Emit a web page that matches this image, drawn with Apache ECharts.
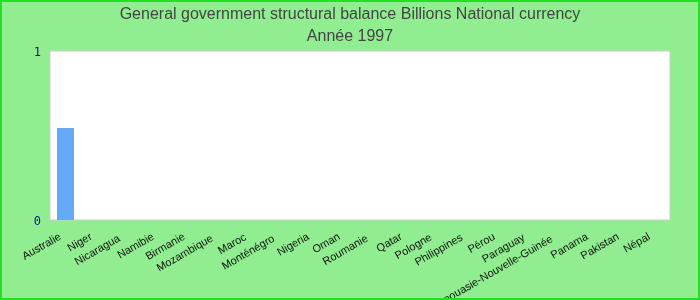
<!DOCTYPE html>
<html>
<head>
<meta charset="utf-8">
<script src="https://cdn.jsdelivr.net/npm/echarts@6/dist/echarts.min.js"></script>
<style>
html,body{margin:0;padding:0;background:#90EE90;}
#c{width:696px;height:296px;border:2px solid #22e022;}
</style>
</head>
<body>
<div id="c"></div>
<script>
const titleLine1 = 'General government structural balance Billions National currency';
const titleLine2 = 'Année 1997';
const categories = ['Australie','Niger','Nicaragua','Namibie','Birmanie','Mozambique','Maroc','Monténégro','Nigeria','Oman','Roumanie','Qatar','Pologne','Philippines','Pérou','Paraguay','Papouasie-Nouvelle-Guinée','Panama','Pakistan','Népal'];
const values = [0.544,null,null,null,null,null,null,null,null,null,null,null,null,null,null,null,null,null,null,null];
const labelDrop = [0,0,7,0,0,7,2,8,0,0,7,0,3,3,0,3,10,0,0,0];
const yTicks = [0,1];

const chart = echarts.init(document.getElementById('c'), null, {renderer:'canvas'});
chart.setOption({
  backgroundColor:'#90EE90',
  animation:false,
  title:{
    text: titleLine1 + '\n' + titleLine2,
    left:'center', top:-3,
    textStyle:{fontFamily:'Liberation Sans, Arial', fontSize:16, fontWeight:'normal', color:'#444', lineHeight:22}
  },
  grid:{left:48, right:28, top:49, bottom:78, show:true, backgroundColor:'#fff', borderColor:'#ccc', borderWidth:1, containLabel:false, outerBoundsMode:'none'},
  xAxis:{
    type:'category',
    data: categories.map((c,i)=>({value:c, textStyle:{padding:[1+labelDrop[i]*0.866, 6+labelDrop[i]*0.5, 0, 0]}})),
    axisLine:{show:false}, axisTick:{show:false},
    axisLabel:{rotate:30, interval:0, margin:13, fontFamily:'Liberation Sans, Arial', fontSize:11, color:'#111'}
  },
  yAxis:{
    type:'value', min:yTicks[0], max:yTicks[yTicks.length-1], interval:1,
    splitLine:{show:false}, axisLine:{show:false}, axisTick:{show:false},
    axisLabel:{
      margin:9,
      formatter: v => '{y|' + v + '}',
      rich:{y:{fontFamily:'DejaVu Sans Mono, monospace', fontSize:12, color:'#1010a0', padding:[4,0,0,0]}}
    }
  },
  series:[{type:'bar', data:values, barWidth:'55%', itemStyle:{color:'#64aaf6'}}]
});
</script>
</body>
</html>
